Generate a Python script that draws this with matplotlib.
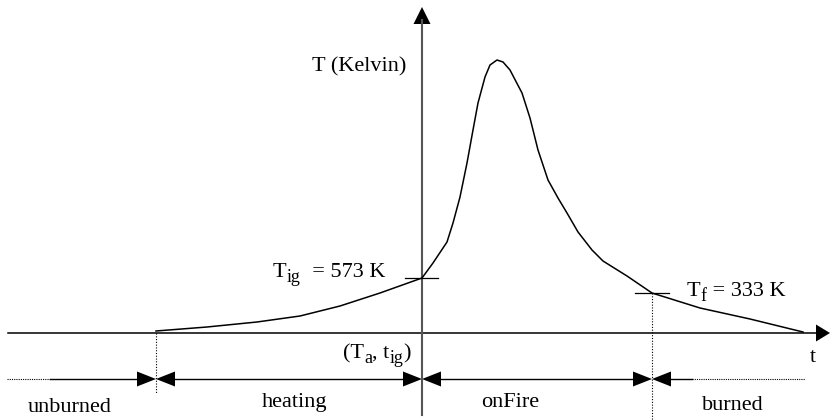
import matplotlib.pyplot as plt
from matplotlib.patches import Polygon

plt.rcParams['font.family'] = ['Liberation Serif', 'DejaVu Serif']
plt.rcParams['mathtext.fontset'] = 'custom'
plt.rcParams['mathtext.rm'] = 'Liberation Serif'
plt.rcParams['mathtext.it'] = 'Liberation Serif:italic'

# temperature curve (x = time, y = height, top-down)
curve_t = [156, 207, 257, 300, 340, 380, 422, 433, 447, 453, 460, 467, 473, 478,
           485, 490, 497, 503, 510, 522, 530, 538, 548, 558, 567, 578, 592, 603,
           627, 652, 700, 750, 803]
curve_T = [331, 327, 322, 316, 306, 293, 278, 263, 242, 223, 197, 163, 130, 103,
           77, 65, 60, 62, 70, 93, 118, 150, 180, 198, 213, 232, 250, 261,
           276, 293, 308, 319, 332]

# phase boundaries on the time axis: start of heating, ignition, end of fire
t_start, t_ig, t_end = 156, 422, 652
T_ig, T_f = 278, 293
axis_y = 333
phases = ['unburned', 'heating', 'onFire', 'burned']
phase_x = [70, 295, 510, 733]
phase_base = [412, 407, 407, 410]

fig = plt.figure(figsize=(8.3, 4.2), dpi=100)
ax = fig.add_axes([0, 0, 1, 1])
ax.set_xlim(0, 830)
ax.set_ylim(420, 0)
ax.axis('off')


def head(tip_x, tip_y, dx, dy, half=8):
    # filled triangle arrowhead; (dx, dy) goes from tip back to base
    if dx != 0:
        pts = [(tip_x, tip_y), (tip_x + dx, tip_y - half), (tip_x + dx, tip_y + half)]
    else:
        pts = [(tip_x, tip_y), (tip_x - half, tip_y + dy), (tip_x + half, tip_y + dy)]
    ax.add_patch(Polygon(pts, closed=True, color='black', lw=0))


# axes
ax.plot([8, 818], [axis_y, axis_y], color='black', lw=1.1)
head(830, axis_y, -14, 0, 8.5)
ax.plot([t_ig, t_ig], [415, 20], color='#555555', lw=1.5)
head(t_ig, 7, 0, 17, 8.5)

# curve
ax.plot(curve_t, curve_T, color='black', lw=1.1, solid_joinstyle='round')

# level marks
ax.plot([405, 438], [T_ig, T_ig], color='black', lw=0.9)
ax.plot([635, 669], [T_f, T_f], color='black', lw=0.9)

# dotted guide lines
ax.plot([t_start, t_start], [axis_y, 394], color='black', lw=0.8, ls=(0, (1, 1.5)))
ax.plot([t_end, t_end], [T_f, 420], color='black', lw=0.8, ls=(0, (1, 1.5)))

# phase arrows
ay = 379
ax.plot([7, 50], [ay, ay], color='black', lw=0.8, ls=(0, (1, 1)))
ax.plot([50, t_start - 18], [ay, ay], color='black', lw=1.0)
head(t_start, ay, -19, 0, 7.5)
ax.plot([t_start + 18, t_ig - 18], [ay, ay], color='black', lw=1.0)
head(t_start, ay, 19, 0, 7.5)
head(t_ig, ay, -19, 0, 7.5)
ax.plot([t_ig + 18, t_end - 18], [ay, ay], color='black', lw=1.0)
head(t_ig, ay, 19, 0, 7.5)
head(t_end, ay, -19, 0, 7.5)
head(t_end, ay, 19, 0, 7.5)
ax.plot([t_end + 18, 692], [ay, ay], color='black', lw=1.0)
ax.plot([692, 805], [ay, ay], color='black', lw=0.8, ls=(0, (1, 1)))

# labels (subscripts drawn as smaller, lowered text like the original)
fs = 16
sfs = 13


def sub_label(x, base, parts):
    # parts: list of (text, is_subscript); laid out left to right
    r = fig.canvas.get_renderer()
    for s, is_sub in parts:
        t = ax.text(x, base + (5 if is_sub else 0), s, fontsize=sfs if is_sub else fs,
                    ha='left', va='baseline')
        bb = t.get_window_extent(renderer=r)
        x += bb.width * 830 / fig.bbox.width


ax.text(312, 67, 'T (Kelvin)', fontsize=fs, ha='left', va='center')
sub_label(273, 277, [('T', False), ('ig', True), ('  = 573 K', False)])
sub_label(343, 358, [('(T', False), ('a', True), (', t', False), ('ig', True), (')', False)])
sub_label(687, 296, [('T', False), ('f', True), (' = 333 K', False)])
ax.text(810, 362, 't', fontsize=fs, ha='left', va='baseline')
for name, x, b in zip(phases, phase_x, phase_base):
    ax.text(x, b, name, fontsize=fs, ha='center', va='baseline')

fig.savefig('out.png', dpi=100)
